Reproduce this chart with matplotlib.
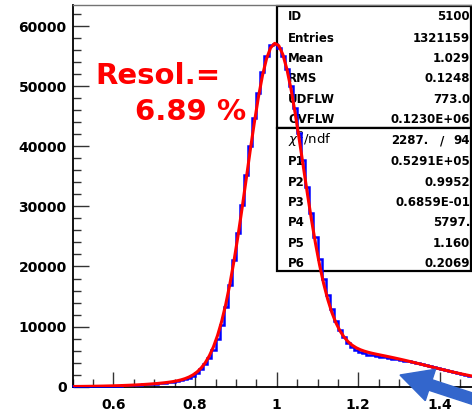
import numpy as np
import matplotlib
matplotlib.use("Agg")
import matplotlib.pyplot as plt
import matplotlib.patches as mpatches
from matplotlib.transforms import IdentityTransform
from matplotlib.ticker import MultipleLocator

# bin edges of the histogram (100 bins of 0.01)
x_min = 0.5
x_max = 1.5
n_bins = 100

# histogram counts (one per bin, 0.50 .. 1.49)
counts = [40, 45, 55, 60, 75, 85, 95, 110, 125, 140,
          160, 185, 205, 235, 265, 300, 335, 375, 420, 470,
          520, 580, 650, 730, 820, 940, 1080, 1270, 1520, 1860,
          2300, 2900, 3700, 4750, 6150, 7950, 10300, 13300, 16900, 21000,
          25500, 30300, 35200, 40100, 44700, 48900, 52400, 55100, 56900, 57000,
          56400, 55000, 52900, 50100, 46400, 42200, 37700, 33300, 28900, 24900,
          21200, 18000, 15200, 12900, 11000, 9400, 8200, 7300, 6600, 6150,
          5800, 5550, 5350, 5200, 5080, 4980, 4880, 4780, 4680, 4580,
          4470, 4350, 4220, 4080, 3930, 3770, 3600, 3430, 3260, 3090,
          2920, 2760, 2600, 2440, 2290, 2140, 2000, 1860, 1730, 1600]

# fitted curve, read at the bin centres
fit_vals = [39, 45, 52, 60, 70, 81, 93, 107, 122, 139,
            159, 180, 205, 232, 262, 295, 331, 372, 418, 468,
            523, 587, 659, 743, 843, 969, 1127, 1333, 1606, 1972,
            2465, 3127, 4000, 5153, 6639, 8523, 10848, 13669, 16990, 20801,
            25032, 29627, 34427, 39264, 43861, 48109, 51739, 54554, 56382, 57128,
            56752, 55285, 52828, 49539, 45618, 41282, 36746, 32222, 27883, 23878,
            20289, 17174, 14546, 12385, 10655, 9303, 8266, 7486, 6905, 6475,
            6153, 5908, 5711, 5545, 5398, 5258, 5120, 4980, 4837, 4689,
            4536, 4380, 4218, 4054, 3887, 3718, 3548, 3379, 3211, 3041,
            2876, 2714, 2552, 2397, 2246, 2097, 1957, 1819, 1688, 1563]

# stats box contents
stat_top_labels = ["ID", "Entries", "Mean", "RMS", "UDFLW", "OVFLW"]
stat_top_values = ["5100", "1321159", "1.029", "0.1248", "773.0", "0.1230E+06"]
chi2_value = "2287."
ndf_value = "94"
par_labels = ["P1", "P2", "P3", "P4", "P5", "P6"]
par_values = ["0.5291E+05", "0.9952", "0.6859E-01", "5797.", "1.160", "0.2069"]

resol_line1 = "Resol.="
resol_line2 = "6.89 %"

W, H = 472, 413
fig = plt.figure(figsize=(W / 100, H / 100), dpi=100)
fig.patch.set_facecolor("white")

# axes box in pixels: left 72.7, bottom 386.7, top 5.3, x=1.5 at 480.7
ax = fig.add_axes([72.7 / W, (H - 386.7) / H, 408.0 / W, 381.4 / H])
ax.set_xlim(x_min, x_max)
ax.set_ylim(0, 63460)

edges = np.linspace(x_min, x_max, n_bins + 1)
centres = 0.5 * (edges[:-1] + edges[1:])

ax.stairs(counts, edges, color="#0000ff", lw=1.8, zorder=3)
ax.plot(centres, fit_vals, color="#ff0000", lw=2.2, zorder=4)

# ROOT-like axes
ax.spines["right"].set_visible(False)
ax.spines["top"].set_color("0.45")
ax.spines["top"].set_linewidth(1.0)
ax.spines["left"].set_linewidth(1.3)
ax.spines["bottom"].set_linewidth(1.3)

ax.xaxis.set_major_locator(MultipleLocator(0.2))
ax.xaxis.set_minor_locator(MultipleLocator(0.05))
ax.yaxis.set_major_locator(MultipleLocator(10000))
ax.yaxis.set_minor_locator(MultipleLocator(2000))
ax.tick_params(which="both", direction="in", top=False, right=False, color="0.2")
ax.tick_params(axis="y", which="major", length=11.5, width=1.0, pad=4.3)
ax.tick_params(axis="y", which="minor", length=6, width=1.0)
ax.tick_params(axis="x", which="major", length=11, width=1.0, pad=8)
ax.tick_params(axis="x", which="minor", length=5.5, width=1.0)
ax.set_xticks([0.6, 0.8, 1.0, 1.2, 1.4])
ax.set_xticklabels(["0.6", "0.8", "1", "1.2", "1.4"])
for lab in ax.get_xticklabels() + ax.get_yticklabels():
    lab.set_fontfamily("DejaVu Sans")
    lab.set_fontweight("bold")
    lab.set_fontsize(10)


def fx(px):
    return px / W


def fy(py):
    return 1 - py / H


# stats box (curves are drawn over it)
box_kw = dict(transform=fig.transFigure, facecolor="white", edgecolor="black",
              lw=1.6, zorder=1)
ax.add_patch(mpatches.Rectangle((fx(277), fy(127.5)), fx(470.5) - fx(277),
                                fy(5.5) - fy(127.5), **box_kw))
ax.add_patch(mpatches.Rectangle((fx(277), fy(270.5)), fx(470.5) - fx(277),
                                fy(127.5) - fy(270.5), **box_kw))
for p in ax.patches:
    p.set_clip_on(False)

txt_kw = dict(transform=fig.transFigure, fontsize=8.5, fontweight="bold",
              family="DejaVu Sans", va="baseline", zorder=2)
row_top = [20.5, 41.5, 62, 82.5, 103, 123]
for lab, val, yy in zip(stat_top_labels, stat_top_values, row_top):
    ax.text(fx(288), fy(yy), lab, ha="left", **txt_kw)
    ax.text(fx(470), fy(yy), val, ha="right", **txt_kw)

ax.text(fx(288), fy(144), r"$\chi^{2}$/ndf", ha="left", va="baseline",
        transform=fig.transFigure, fontsize=9.5, family="DejaVu Sans", zorder=2)
ax.text(fx(428), fy(144), chi2_value, ha="right", **txt_kw)
ax.text(fx(442), fy(144), "/", ha="center", **txt_kw)
ax.text(fx(470), fy(144), ndf_value, ha="right", **txt_kw)

row_par = [164.5, 185.5, 206, 226.5, 247, 267]
for lab, val, yy in zip(par_labels, par_values, row_par):
    ax.text(fx(288), fy(yy), lab, ha="left", **txt_kw)
    ax.text(fx(470), fy(yy), val, ha="right", **txt_kw)

# resolution label
res_kw = dict(transform=fig.transFigure, fontsize=21, fontweight="bold",
              family="DejaVu Sans", color="#ff0000", va="baseline", zorder=5)
ax.text(fx(95), fy(84.5), resol_line1, ha="left", **res_kw)
ax.text(fx(135), fy(119.5), resol_line2, ha="left", **res_kw)

# blue arrow pointing at the tail (display coords = pixels, y up)
tip = np.array([400.0, H - 375.0])
direction = np.array([0.95, -0.311])
direction = direction / np.linalg.norm(direction)
tail = tip + direction * 95
arrow = mpatches.FancyArrow(tail[0], tail[1], *(tip - tail), width=11,
                            head_width=33, head_length=32,
                            length_includes_head=True, color="#3366cc",
                            transform=IdentityTransform(), zorder=6)
fig.patches.append(arrow)

fig.savefig("out.png", dpi=100, facecolor="white")
